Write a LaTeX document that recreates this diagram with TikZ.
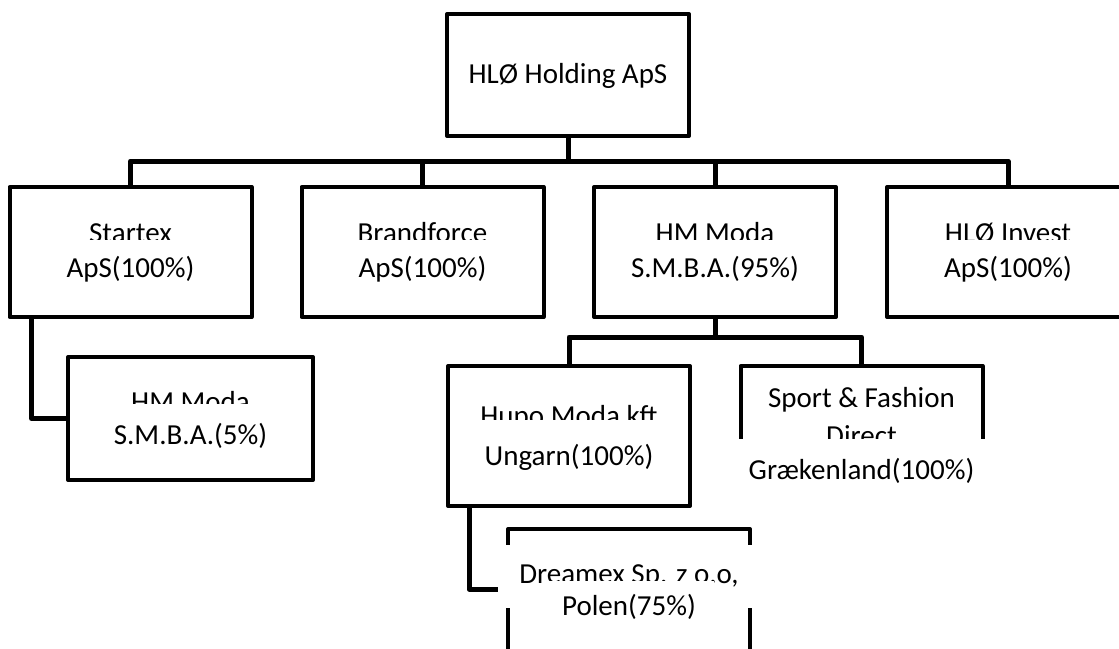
\documentclass[tikz,border=0pt]{standalone}
\usepackage{fontspec}
\setmainfont{Carlito}
\begin{document}
\begin{tikzpicture}[x=1pt,y=-1pt,
  box/.style={draw, line width=4pt, line join=round, inner sep=0pt, minimum width=242pt},
  conn/.style={line width=5pt, line join=round},
  txt/.style={font=\fontsize{29}{34}\selectfont, anchor=base, inner sep=0pt},
  lineb/.style={txt, fill=white, text height=#1, text depth=6pt, minimum width=210pt}]
\useasboundingbox (0,0) rectangle (1119,648);
\clip (0,0) rectangle (1119,648);
% boxes
\node[box, minimum height=122pt] (top) at (568,75) {};
\node[box, minimum height=130pt] (startex) at (130.5,252) {};
\node[box, minimum height=130pt] (brand) at (422.5,252) {};
\node[box, minimum height=130pt] (hmmoda) at (715,252) {};
\node[box, minimum height=130pt] (invest) at (1008,252) {};
\node[box, minimum height=123pt, minimum width=245pt] (hm5) at (190.5,418.5) {};
\node[box, minimum height=140pt] (hupo) at (569,436) {};
\node[box, minimum height=140pt] (sport) at (861.5,436) {};
\node[box, minimum height=140pt] (dreamex) at (629,599) {};
% connectors
\coordinate (b1) at (568,161);
\coordinate (b2) at (715,337);
\coordinate (din) at (498,589);
\draw[conn] (top.south) -- (b1);
\draw[conn] (startex.north) |- (b1);
\draw[conn] (brand.north) |- (b1);
\draw[conn] (hmmoda.north) |- (b1);
\draw[conn] (invest.north) |- (b1);
\draw[conn] ([xshift=24pt]startex.south west) |- (hm5.west);
\draw[conn] (hmmoda.south) -- (b2);
\draw[conn] (hupo.north) |- (b2);
\draw[conn] (sport.north) |- (b2);
\draw[conn] ([xshift=23pt]hupo.south west) |- (din);
% texts
\node[txt] (ttop) at (568,83) {HLØ Holding ApS};
\node[txt] (t1a) at (130.5,242) {Startex};
\node[lineb=37pt] (t1b) at (130.5,277) {ApS(100\%)};
\node[txt] (t2a) at (422.5,242) {Brandforce};
\node[lineb=37pt] (t2b) at (422.5,277) {ApS(100\%)};
\node[txt] (t3a) at (715,242) {HM Moda};
\node[lineb=37pt] (t3b) at (715,277) {S.M.B.A.(95\%)};
\node[txt] (t4a) at (1008,242) {HLØ Invest};
\node[lineb=37pt] (t4b) at (1008,277) {ApS(100\%)};
\node[txt] (t5a) at (190.5,411) {HM Moda};
\node[lineb=40pt] (t5b) at (190.5,444) {S.M.B.A.(5\%)};
\node[txt] (t6a) at (569,425) {Hupo Moda kft};
\node[lineb=45pt] (t6b) at (569,465) {Ungarn(100\%)};
\node[txt] (t7a) at (861.5,407) {Sport \& Fashion};
\node[txt] (t7b) at (861.5,445) {Direct};
\node[txt, fill=white, text height=40pt, text depth=32pt, minimum width=254pt] (t7c) at (861.5,479) {Grækenland(100\%)};
\node[txt, fill=white, text height=38pt, text depth=25pt, minimum width=262pt] (t8a) at (629,583) {Dreamex Sp. z o.o,};
\node[lineb=34pt, minimum width=170pt] (t8b) at (629,615) {Polen(75\%)};
\end{tikzpicture}
\end{document}
